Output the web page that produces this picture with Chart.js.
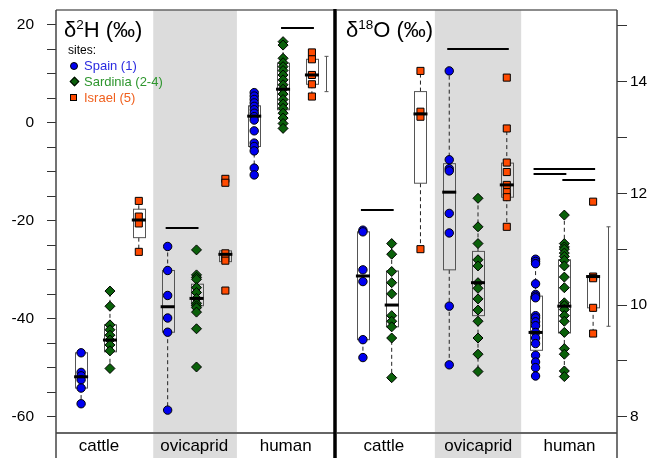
<!DOCTYPE html>
<html>
<head>
<meta charset="utf-8">
<script src="https://cdn.jsdelivr.net/npm/chart.js@4.4.0/dist/chart.umd.min.js"></script>
<style>
  body { margin: 0; background: #fff; }
  #wrap { position: relative; width: 652px; height: 458px; font-family: "Liberation Sans", Arial, sans-serif; }
  #wrap canvas { position: absolute; left: 0; top: 0; }
  .title { position: absolute; font-size: 22px; line-height: 1; color: #000; white-space: nowrap; }
  .title sup { font-size: 13.5px; vertical-align: 0; position: relative; top: -8px; }
  .legend { position: absolute; left: 68px; top: 42px; font-size: 13px; line-height: 16px; }
  .legend .head { font-size: 12px; color: #000; }
  .legend .item { position: relative; padding-left: 16px; white-space: nowrap; }
  .mk { position: absolute; left: 2px; top: 4px; width: 7px; height: 7px; border: 1px solid #000; box-sizing: border-box; }
  .mk.circle { background: #0000f0; border-radius: 50%; width: 8px; height: 8px; }
  .mk.diamond { background: #0a600a; transform: rotate(45deg); width: 7px; height: 7px; left: 3px; }
  .mk.square { background: #ff4a00; }
</style>
</head>
<body>
<div id="wrap">
  <canvas id="leftChart" width="652" height="458"></canvas>
  <canvas id="rightChart" width="652" height="458"></canvas>
  <div class="title" style="left:64px; top:19px;">δ<sup>2</sup>H (‰)</div>
  <div class="title" style="left:346px; top:19px;">δ<sup>18</sup>O (‰)</div>
  <div class="legend">
    <div class="head">sites:</div>
    <div class="item" style="color:#2a2ae0"><span class="mk circle"></span>Spain (1)</div>
    <div class="item" style="color:#2e962e"><span class="mk diamond"></span>Sardinia (2-4)</div>
    <div class="item" style="color:#f0601e"><span class="mk square"></span>Israel (5)</div>
  </div>
</div>
<script>
// Groups and sites
const animals = ['cattle', 'ovicaprid', 'human'];
const siteNames = ['Spain (1)', 'Sardinia (2-4)', 'Israel (5)'];

// d2H points, one list per animal group [cattle, ovicaprid, human]
const h2Spain = [
    [-46.9, -50.9, -51.6, -52.4, -54.1, -57.3],
    [-25.2, -30.1, -35.2, -39.8, -42.7, -58.6],
    [6.2, 5.5, 4.8, 4.1, 3.4, 2.7, 2.0, 1.3, 0.6, -1.6, -4.1, -4.8, -5.7, -9.2, -10.6]
];
const h2Sardinia = [
    [-34.3, -37.4, -41.2, -42.2, -43.3, -44.3, -45.3, -46.5, -50.1],
    [-25.9, -31.0, -31.5, -31.9, -33.6, -34.6, -35.8, -36.8, -37.3, -37.7, -38.6, -42.0, -49.8],
    [16.6, 15.9, 13.2, 12.3, 11.5, 10.7, 9.8, 8.8, 7.8, 6.9, 5.9, 4.8, 3.9, 3.0, 2.0, 1.0, -0.1, -1.1]
];
const h2Israel = [
    [-15.9, -19.1, -20.5, -26.3],
    [-11.4, -12.2, -26.6, -27.4, -28.1, -34.2],
    [14.4, 13.0, 9.8, 7.9, 5.4]
];

// d2H box stats [whisker low, q1, median, q3, whisker high]
const h2BoxSpain = [[-57.3, -54.1, -51.8, -46.9, -46.9], [-58.6, -42.7, -37.5, -30.1, -25.2], [-10.6, -4.8, 1.4, 3.5, 6.2]];
const h2BoxSardinia = [[-50.1, -46.7, -44.3, -41.2, -34.3], [-38.6, -37.3, -35.8, -32.9, -31.0], [-1.1, 2.7, 6.9, 12.2, 16.6]];
const h2BoxIsrael = [[-26.3, -23.4, -19.8, -17.6, -15.9], [-28.3, -28.3, -26.8, -26.1, -26.1], [5.4, 7.9, 9.8, 13.0, 14.4]];

// d18O points
const o18Spain = [
    [11.34, 11.31, 10.63, 10.42, 9.38, 9.06],
    [14.19, 12.60, 12.44, 12.40, 11.64, 11.29, 9.98, 8.93],
    [10.82, 10.78, 10.74, 10.38, 10.19, 10.16, 10.13, 9.81, 9.77, 9.70, 9.63, 9.51, 9.41, 9.31, 9.10, 8.98, 8.88, 8.73]
];
const o18Sardinia = [
    [11.10, 10.91, 10.60, 10.40, 10.20, 9.81, 9.71, 9.61, 9.41, 8.70],
    [11.91, 11.40, 11.10, 10.81, 10.70, 10.40, 10.30, 10.11, 9.91, 9.71, 9.41, 9.12, 8.81],
    [11.61, 11.10, 11.04, 11.00, 10.93, 10.87, 10.80, 10.70, 10.50, 10.31, 10.04, 9.99, 9.92, 9.81, 9.71, 9.51, 9.22, 9.12, 8.82, 8.72]
];
const o18Israel = [
    [14.19, 13.46, 13.37, 11.00],
    [14.07, 13.16, 12.55, 12.38, 12.15, 12.02, 11.93, 11.40],
    [11.85, 10.51, 10.48, 9.95, 9.49]
];

// d18O box stats
const o18BoxSpain = [[9.06, 9.38, 10.52, 11.31, 11.34], [8.93, 10.63, 12.02, 12.53, 14.19], [8.73, 9.19, 9.51, 10.16, 10.82]];
const o18BoxSardinia = [[8.70, 9.61, 10.00, 10.61, 11.10], [8.81, 9.81, 10.40, 10.96, 11.91], [8.72, 9.50, 9.98, 10.81, 11.61]];
const o18BoxIsrael = [[11.00, 12.18, 13.42, 13.82, 14.19], [11.40, 11.93, 12.15, 12.54, 13.16], [9.49, 9.95, 10.51, 10.51, 10.51]];

// significance bars [animal, from site, to site, value]
const h2Sig = [[1, 0, 1, -21.5], [2, 1, 2, 19.3]];
const o18Sig = [[0, 0, 1, 11.70], [1, 0, 2, 14.59], [2, 0, 2, 12.44], [2, 0, 1, 12.34], [2, 1, 2, 12.23]];

// error bar next to human group [low, high]
const h2ErrBar = [6.4, 13.6];
const o18ErrBar = [9.62, 11.40];

// axis ranges and tick labels
const h2Range = [-63.27, 23.06];
const o18Range = [7.71, 15.28];
const h2Labels = [-60, -40, -20, 0, 20];
const o18Labels = [8, 10, 12, 14];
const h2Minor = 5;
const o18Minor = 1;
const xRangeLeft = [0.13, 9.8];
const xRangeRight = [0.03, 9.83];
const bandLeft = [3.5, 6.4];
const bandRight = [3.5, 6.5];
// where the group names sit on the x axis
const groupLabelLeft = [1.62, 4.92, 8.09];
const groupLabelRight = [1.73, 5.01, 8.18];

const siteStyles = [
    { pointStyle: 'circle', radius: 4.2, color: '#0000f0' },
    { pointStyle: 'rectRot', radius: 5, color: '#0a600a' },
    { pointStyle: 'rect', radius: 5, color: '#ff4a00' }
];

Chart.defaults.font.family = '"Liberation Sans", Arial, sans-serif';
Chart.defaults.font.size = 15;
Chart.defaults.color = '#000';

// position of a box on the x axis
const pos = (a, s) => a * 3 + s + 1;

// keep the chart area fixed: no extra padding from tick labels
const noScalePadding = (scale) => {
    scale.paddingTop = 0;
    scale.paddingBottom = 0;
    scale.paddingLeft = 0;
    scale.paddingRight = 0;
};

// Build a panel plugin that draws bands, boxes, medians and frame
function panelPlugin(p) {
    return {
        id: 'panel',
        beforeDraw(chart) {
            const { ctx, chartArea, scales: { x } } = chart;
            const x0 = x.getPixelForValue(p.band[0]);
            const x1 = x.getPixelForValue(p.band[1]);
            ctx.save();
            ctx.fillStyle = '#dcdcdc';
            ctx.fillRect(x0, chartArea.top, x1 - x0, chart.height - chartArea.top);
            ctx.restore();
        },
        beforeDatasetsDraw(chart) {
            const { ctx, scales: { x, y } } = chart;
            ctx.save();
            p.boxes.forEach((siteBoxes, s) => {
                siteBoxes.forEach((b, a) => {
                    const cx = x.getPixelForValue(pos(a, s));
                    const [lo, q1, , q3, hi] = b.map(v => y.getPixelForValue(v));
                    // whiskers
                    ctx.strokeStyle = '#222';
                    ctx.lineWidth = 1;
                    ctx.setLineDash([4, 3]);
                    ctx.beginPath();
                    if (hi < q3 - 0.5) { ctx.moveTo(cx, q3); ctx.lineTo(cx, hi); }
                    if (lo > q1 + 0.5) { ctx.moveTo(cx, q1); ctx.lineTo(cx, lo); }
                    ctx.stroke();
                    ctx.setLineDash([]);
                    // box
                    ctx.strokeStyle = '#555';
                    ctx.strokeRect(Math.round(cx - 6) + 0.5, q3, 12, q1 - q3);
                });
            });
            ctx.restore();
        },
        afterDatasetsDraw(chart) {
            const { ctx, scales: { x, y } } = chart;
            ctx.save();
            // medians
            ctx.strokeStyle = '#000';
            ctx.lineWidth = 3;
            p.boxes.forEach((siteBoxes, s) => {
                siteBoxes.forEach((b, a) => {
                    const cx = x.getPixelForValue(pos(a, s));
                    const m = y.getPixelForValue(b[2]);
                    ctx.beginPath();
                    ctx.moveTo(cx - 7, m);
                    ctx.lineTo(cx + 7, m);
                    ctx.stroke();
                });
            });
            // significance bars
            ctx.lineWidth = 2;
            p.sig.forEach(([a, s0, s1, v]) => {
                const yy = Math.round(y.getPixelForValue(v));
                ctx.beginPath();
                ctx.moveTo(x.getPixelForValue(pos(a, s0)) - 2, yy);
                ctx.lineTo(x.getPixelForValue(pos(a, s1)) + 2, yy);
                ctx.stroke();
            });
            // error bar
            const ex = Math.round(x.getPixelForValue(pos(2, 2) + 0.5)) + 0.5;
            const e0 = y.getPixelForValue(p.err[0]);
            const e1 = y.getPixelForValue(p.err[1]);
            ctx.strokeStyle = '#555';
            ctx.lineWidth = 1;
            ctx.beginPath();
            ctx.moveTo(ex, e0); ctx.lineTo(ex, e1);
            ctx.moveTo(ex - 2, e0); ctx.lineTo(ex + 2, e0);
            ctx.moveTo(ex - 2, e1); ctx.lineTo(ex + 2, e1);
            ctx.stroke();
            ctx.restore();
        },
        afterDraw(chart) {
            const { ctx, chartArea } = chart;
            const { left, right, top, bottom } = chartArea;
            ctx.save();
            ctx.strokeStyle = '#666';
            ctx.lineWidth = 1.5;
            ctx.beginPath();
            ctx.moveTo(left, top); ctx.lineTo(right, top);
            ctx.stroke();
            ctx.lineWidth = 2;
            ctx.beginPath();
            ctx.moveTo(left, bottom); ctx.lineTo(right, bottom);
            ctx.stroke();
            ctx.lineWidth = 1.5;
            ctx.strokeStyle = '#444';
            ctx.beginPath();
            const outer = p.side === 'left' ? left : right;
            ctx.moveTo(outer, top); ctx.lineTo(outer, chart.height);
            ctx.stroke();
            // divider between the panels
            ctx.strokeStyle = '#000';
            ctx.lineWidth = 3;
            const inner = p.side === 'left' ? right : left;
            ctx.beginPath();
            ctx.moveTo(inner, top - 1); ctx.lineTo(inner, chart.height);
            ctx.stroke();
            ctx.restore();
        }
    };
}

function makePanel(canvasId, p) {
    const datasets = p.points.map((sitePoints, s) => ({
        label: siteNames[s],
        data: sitePoints.flatMap((vals, a) => vals.map(v => ({ x: pos(a, s), y: v }))),
        pointStyle: siteStyles[s].pointStyle,
        pointRadius: siteStyles[s].radius,
        pointBackgroundColor: siteStyles[s].color,
        pointBorderColor: '#000',
        pointBorderWidth: 1,
        showLine: false
    }));

    const minorTicks = [];
    for (let v = Math.ceil(p.yRange[0] / p.minor) * p.minor; v <= p.yRange[1]; v += p.minor) {
        minorTicks.push(v);
    }

    return new Chart(document.getElementById(canvasId), {
        type: 'scatter',
        data: { datasets },
        options: {
            responsive: false,
            animation: false,
            events: [],
            layout: {
                padding: p.side === 'left'
                    ? { top: 10, right: 317, left: 0, bottom: 0 }
                    : { top: 10, left: 335, right: 0, bottom: 0 }
            },
            plugins: {
                legend: { display: false },
                tooltip: { enabled: false }
            },
            scales: {
                x: {
                    type: 'linear',
                    min: p.xRange[0],
                    max: p.xRange[1],
                    grid: { display: false, drawTicks: false },
                    border: { display: false },
                    afterBuildTicks: (scale) => { scale.ticks = p.groupAt.map(v => ({ value: v })); },
                    afterFit: (scale) => { scale.height = 25; noScalePadding(scale); },
                    ticks: {
                        autoSkip: false,
                        maxRotation: 0,
                        padding: 3,
                        font: { size: 17 },
                        callback: (v, i) => animals[i]
                    }
                },
                y: {
                    type: 'linear',
                    position: p.side,
                    min: p.yRange[0],
                    max: p.yRange[1],
                    border: { display: false },
                    grid: {
                        drawOnChartArea: false,
                        drawTicks: true,
                        tickLength: p.side === 'left' ? 9 : 10,
                        color: '#333',
                        lineWidth: 1
                    },
                    afterBuildTicks: (scale) => { scale.ticks = minorTicks.map(v => ({ value: v })); },
                    afterFit: (scale) => { scale.width = p.side === 'left' ? 56 : 35; noScalePadding(scale); },
                    ticks: {
                        autoSkip: false,
                        padding: p.side === 'left' ? 13 : 3,
                        font: { size: 15.5 },
                        callback: (v) => p.labels.includes(v) ? String(v) : ''
                    }
                }
            }
        },
        plugins: [panelPlugin(p)]
    });
}

makePanel('leftChart', {
    side: 'left',
    points: [h2Spain, h2Sardinia, h2Israel],
    boxes: [h2BoxSpain, h2BoxSardinia, h2BoxIsrael],
    sig: h2Sig,
    err: h2ErrBar,
    yRange: h2Range,
    labels: h2Labels,
    minor: h2Minor,
    xRange: xRangeLeft,
    band: bandLeft,
    groupAt: groupLabelLeft
});

makePanel('rightChart', {
    side: 'right',
    points: [o18Spain, o18Sardinia, o18Israel],
    boxes: [o18BoxSpain, o18BoxSardinia, o18BoxIsrael],
    sig: o18Sig,
    err: o18ErrBar,
    yRange: o18Range,
    labels: o18Labels,
    minor: o18Minor,
    xRange: xRangeRight,
    band: bandRight,
    groupAt: groupLabelRight
});
</script>
</body>
</html>
